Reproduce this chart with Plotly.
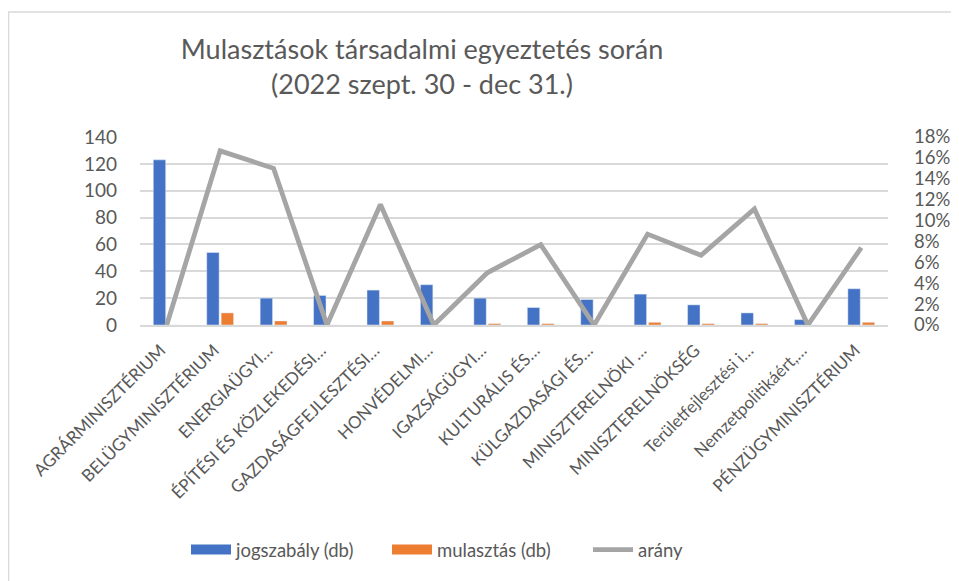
import plotly.graph_objects as go

categories = [
    "AGRÁRMINISZTÉRIUM",
    "BELÜGYMINISZTÉRIUM",
    "ENERGIAÜGYI…",
    "ÉPÍTÉSI ÉS KÖZLEKEDÉSI…",
    "GAZDASÁGFEJLESZTÉSI…",
    "HONVÉDELMI…",
    "IGAZSÁGÜGYI…",
    "KULTURÁLIS ÉS…",
    "KÜLGAZDASÁGI ÉS…",
    "MINISZTERELNÖKI …",
    "MINISZTERELNÖKSÉG",
    "Területfejlesztési i…",
    "Nemzetpolitikáért,…",
    "PÉNZÜGYMINISZTÉRIUM",
]
jogszabaly = [123, 54, 20, 22, 26, 30, 20, 13, 19, 23, 15, 9, 4, 27]
mulasztas = [0, 9, 3, 0, 3, 0, 1, 1, 0, 2, 1, 1, 0, 2]
arany = [0.0, 0.1667, 0.15, 0.0, 0.1154, 0.0, 0.05, 0.0769, 0.0, 0.087, 0.0667, 0.1111, 0.0, 0.0741]

left_ticks = [0, 20, 40, 60, 80, 100, 120, 140]
right_ticks = [0, 0.02, 0.04, 0.06, 0.08, 0.10, 0.12, 0.14, 0.16, 0.18]

FONT = "Lato"
GRAY = "#595959"
BLUE, ORANGE, LGRAY = "#4472C4", "#ED7D31", "#A5A5A5"

# the page body has an 8px margin; work in page pixels and offset
OFF = 8
FW, FH = 959 - OFF, 581 - OFF
L, R, T, B = 140 - OFF, 888 - OFF, 137 - OFF, 325 - OFF
W, H = R - L, B - T

fig = go.Figure()
fig.add_trace(go.Bar(x=categories, y=jogszabaly, name="jogszabály (db)",
                     marker_color=BLUE, showlegend=False))
fig.add_trace(go.Bar(x=categories, y=mulasztas, name="mulasztás (db)",
                     marker_color=ORANGE, showlegend=False))
fig.add_trace(go.Scatter(x=categories, y=arany, name="arány", yaxis="y2",
                         mode="lines", line=dict(color=LGRAY, width=4.8),
                         showlegend=False))
# legend entries (wide swatches like the original)
fig.add_trace(go.Scatter(x=[None], y=[None], name="jogszabály (db)", mode="lines",
                         line=dict(color=BLUE, width=12)))
fig.add_trace(go.Scatter(x=[None], y=[None], name="mulasztás (db)", mode="lines",
                         line=dict(color=ORANGE, width=12)))
fig.add_trace(go.Scatter(x=[None], y=[None], name="arány", mode="lines",
                         line=dict(color=LGRAY, width=4.8)))

fig.update_layout(
    width=FW, height=FH,
    paper_bgcolor="white", plot_bgcolor="white",
    margin=dict(l=L, r=FW - R, t=T, b=FH - B, autoexpand=False),
    font=dict(family=FONT, color=GRAY),
    title=dict(text="Mulasztások társadalmi egyeztetés során<br>(2022 szept. 30 - dec 31.)",
               x=(422 - OFF) / FW, xanchor="center", y=1 - (59 - OFF) / FH, yanchor="top",
               font=dict(size=27, color=GRAY, family=FONT)),
    barmode="group", bargap=0.46, bargroupgap=0.14,
    xaxis=dict(tickangle=-45, tickfont=dict(size=17, color=GRAY), automargin=False,
               showgrid=False, showline=True, linecolor="#D9D9D9", linewidth=1.5, ticks="",
               ticklabelstandoff=7, ticklabelshift=-6),
    yaxis=dict(range=[0, 140], tickvals=left_ticks, tickfont=dict(size=19, color=GRAY),
               showgrid=True, gridcolor="#D9D9D9", gridwidth=1.5, zeroline=False,
               ticks="", ticklabelstandoff=22, automargin=False),
    yaxis2=dict(range=[0, 0.18], tickvals=right_ticks, tickformat=".0%", overlaying="y",
                side="right", showgrid=False, zeroline=False, automargin=False,
                tickfont=dict(size=18.5, color=GRAY), ticks="", ticklabelstandoff=25),
    legend=dict(orientation="h", x=(186 - OFF) / FW, xanchor="left", xref="container",
                y=1 - (550 - OFF) / FH, yanchor="middle", yref="container",
                font=dict(size=18.5, color=GRAY), itemwidth=40,
                entrywidth=146, entrywidthmode="pixels",
                traceorder="normal"),
    shapes=[
        dict(type="line", xref="paper", yref="paper", x0=(8 - OFF - L) / W, x1=(FW - L) / W,
             y0=(B - (12 - OFF)) / H, y1=(B - (12 - OFF)) / H,
             line=dict(color="#D9D9D9", width=1.5)),
        dict(type="line", xref="paper", yref="paper", x0=(8.5 - OFF - L) / W, x1=(8.5 - OFF - L) / W,
             y0=(B - (12 - OFF)) / H, y1=(B - FH) / H, line=dict(color="#D9D9D9", width=1.5)),
    ],
)

fig.write_html("out.html")
